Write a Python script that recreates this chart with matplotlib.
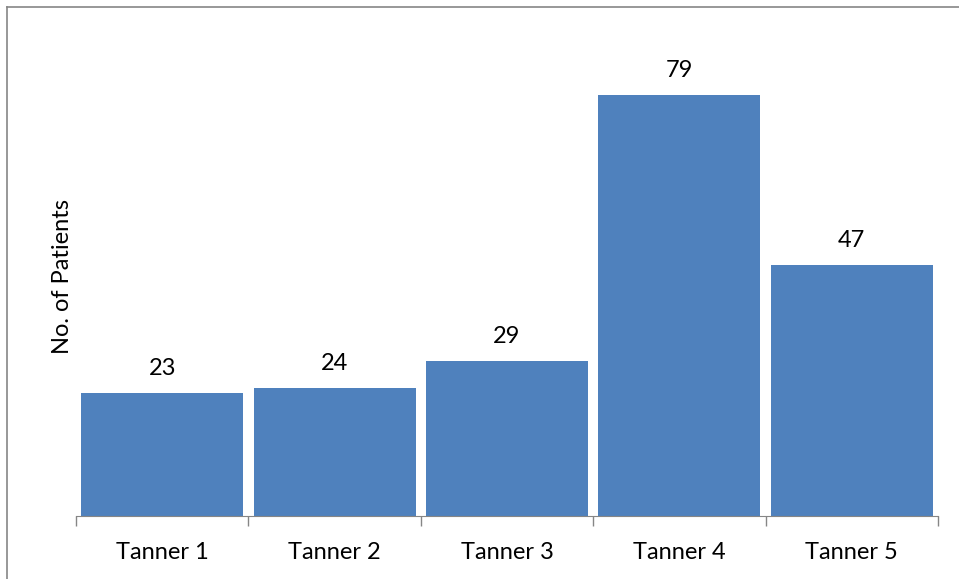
import matplotlib.pyplot as plt
import numpy as np

categories = ['Tanner 1', 'Tanner 2', 'Tanner 3', 'Tanner 4', 'Tanner 5']
patients = [23, 24, 29, 79, 47]

plt.rcParams['font.family'] = ['Lato', 'DejaVu Sans']

fig = plt.figure(figsize=(9.59, 5.79), dpi=100)
W, H = 959, 579

# outer chart border (only top and left visible)
fig.add_artist(plt.Line2D([7 / W, 1], [1 - 7 / H, 1 - 7 / H], color='#868686', lw=1.2))
fig.add_artist(plt.Line2D([7 / W, 7 / W], [0, 1 - 7 / H], color='#868686', lw=1.2))

ax = fig.add_axes([76 / W, 1 - 516 / H, (938 - 76) / W, (516 - 36) / H])
x = np.arange(len(categories))
ax.bar(x, patients, width=0.94, color='#4F81BD')
ax.set_xlim(-0.5, len(categories) - 0.5)
ax.set_ylim(0, 90)

for xi, v in zip(x, patients):
    ax.annotate(str(v), (xi, v), xytext=(0, 10), textcoords='offset points',
                ha='center', va='bottom', fontsize=17)

for s in ['top', 'right', 'left']:
    ax.spines[s].set_visible(False)
ax.spines['bottom'].set_color('#868686')
ax.set_yticks([])
ax.set_xticks(np.arange(len(categories) + 1) - 0.5, minor=True)
ax.set_xticks(x)
ax.set_xticklabels(categories, fontsize=17)
ax.tick_params(axis='x', which='major', length=0, pad=19)
ax.tick_params(axis='x', which='minor', length=7, color='#868686', width=1)
ax.set_ylabel('No. of Patients', fontsize=17, labelpad=2)

fig.savefig('out.png', dpi=100)
